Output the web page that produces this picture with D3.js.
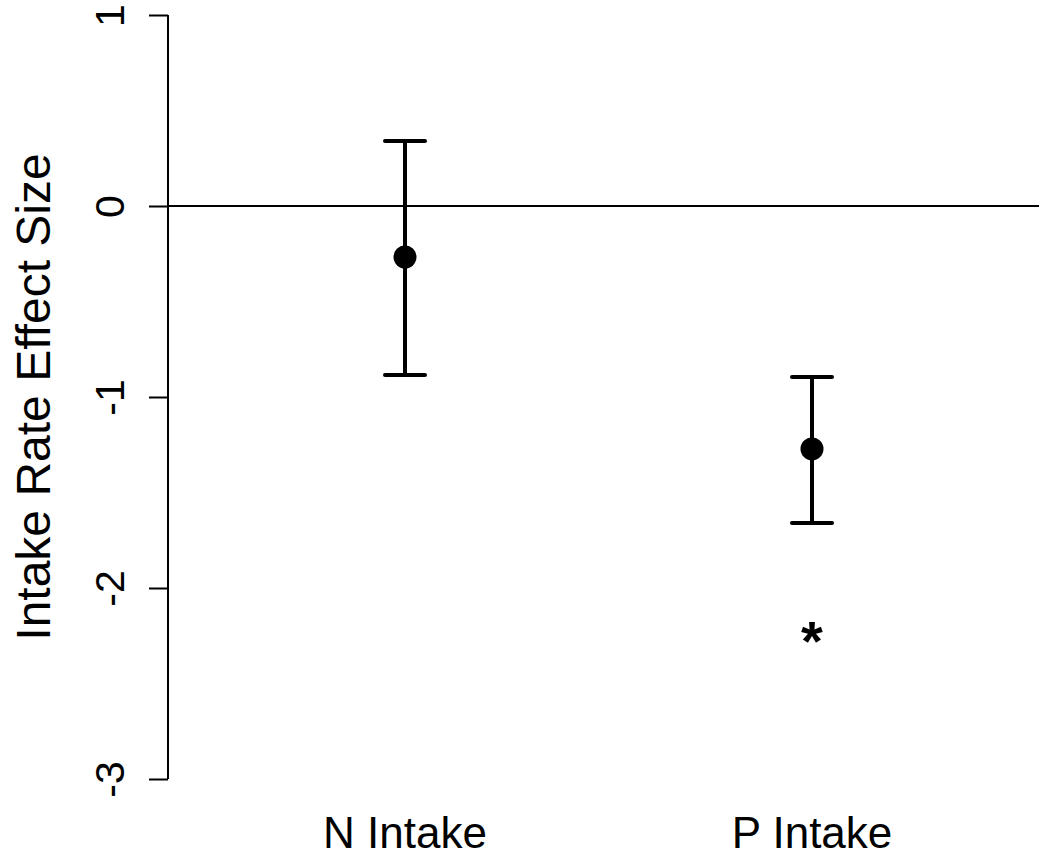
<!DOCTYPE html>
<html><head><meta charset="utf-8">
<script src="https://cdn.jsdelivr.net/npm/d3@7"></script>
<style>body{margin:0;background:#fff}svg{display:block}text{font-family:"Liberation Sans",Arial,sans-serif}</style>
</head><body>
<script>
const categories = ["N Intake", "P Intake"];
const means = [-0.267, -1.272];
const upper = [0.34, -0.895];
const lower = [-0.885, -1.66];
const significant = [false, true];
const sigMarkY = [null, -2.22];
const yTicks = [-3, -2, -1, 0, 1];

const W = 1039, H = 856;
const svg = d3.select("body").append("svg").attr("width", W).attr("height", H);

const y = d3.scaleLinear().domain([-3, 1]).range([779, 15]);
const x = d3.scalePoint().domain(categories).range([405, 812]);
const axisX = 168;

// y axis
const yAxis = d3.axisLeft(y).tickValues(yTicks).tickSize(19).tickFormat(d3.format("d"));
const ga = svg.append("g").attr("transform", `translate(${axisX},0)`).call(yAxis);
ga.select(".domain").attr("stroke", "#000").attr("stroke-width", 2).attr("d", `M0,${y(-3)}V${y(1)}`);
ga.selectAll(".tick line").attr("stroke", "#000").attr("stroke-width", 2);
ga.selectAll(".tick text").remove();
ga.selectAll(".tick").append("text")
  .attr("transform", "rotate(-90)")
  .attr("x", 0).attr("y", -44)
  .attr("text-anchor", "middle")
  .attr("fill", "#000")
  .attr("font-size", 41)
  .text(d => d3.format("d")(d).replace("−", "-"));

// zero line
svg.append("line").attr("x1", axisX).attr("x2", W).attr("y1", y(0)).attr("y2", y(0))
  .attr("stroke", "#000").attr("stroke-width", 2);

// y title
svg.append("text").attr("transform", `translate(50,${(y(-3)+y(1))/2}) rotate(-90)`)
  .attr("text-anchor", "middle").attr("font-size", 48).attr("fill", "#000")
  .text("Intake Rate Effect Size");

// error bars
const cap = 20;
const g = svg.append("g");
categories.forEach((c, i) => {
  const cx = x(c);
  g.append("line").attr("x1", cx).attr("x2", cx).attr("y1", y(upper[i])).attr("y2", y(lower[i]))
    .attr("stroke", "#000").attr("stroke-width", 4);
  [upper[i], lower[i]].forEach(v => {
    g.append("line").attr("x1", cx - cap).attr("x2", cx + cap).attr("y1", y(v)).attr("y2", y(v))
      .attr("stroke", "#000").attr("stroke-width", 4).attr("stroke-linecap", "round");
  });
  g.append("circle").attr("cx", cx).attr("cy", y(means[i])).attr("r", 11.5).attr("fill", "#000");
  if (significant[i]) {
    g.append("text").attr("x", cx).attr("y", y(sigMarkY[i]) + 30)
      .attr("text-anchor", "middle").attr("font-size", 56).attr("font-weight", "bold").attr("fill", "#000")
      .text("*");
  }
  // category label
  svg.append("text").attr("x", cx).attr("y", 848).attr("text-anchor", "middle")
    .attr("font-size", 44).attr("fill", "#000").text(c);
});
</script>
</body></html>
